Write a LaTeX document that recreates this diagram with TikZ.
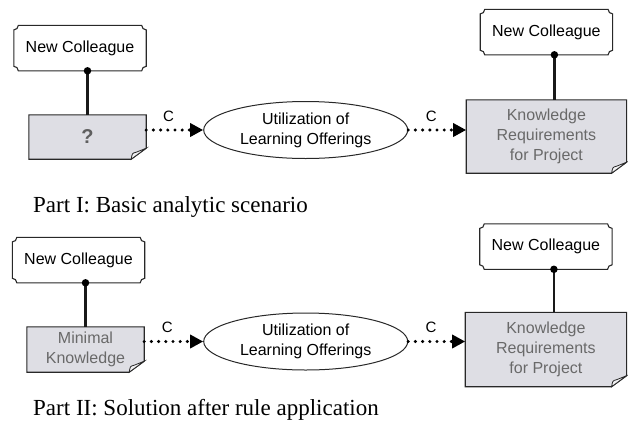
\documentclass[tikz,border=0pt]{standalone}
\usepackage{fontspec}
\setmainfont{Liberation Serif}
\setsansfont{Liberation Sans}
\usetikzlibrary{shapes,arrows,positioning,arrows.meta}
\definecolor{docgray}{RGB}{222,222,228}
\definecolor{txtgray}{RGB}{105,105,105}
\definecolor{linegray}{RGB}{40,40,40}

\begin{document}
\begin{tikzpicture}[x=1pt, y=1pt,
    boxfont/.style={font=\sffamily\fontsize{16}{20}\selectfont},
    frame/.style={draw=linegray, line width=1.1pt},
    person/.style={rectangle, inner sep=0pt, minimum width=132pt, minimum height=45pt, boxfont,
        append after command={\pgfextra{%
            \draw[frame] ([xshift=4.5pt]\tikzlastnode.north west) -- ([xshift=-4.5pt]\tikzlastnode.north east)
                arc[start angle=180, end angle=270, radius=4.5pt]
                -- ([yshift=4.5pt]\tikzlastnode.south east) arc[start angle=90, end angle=180, radius=4.5pt]
                -- ([xshift=4.5pt]\tikzlastnode.south west) arc[start angle=0, end angle=90, radius=4.5pt]
                -- ([yshift=-4.5pt]\tikzlastnode.north west) arc[start angle=270, end angle=360, radius=4.5pt]
                -- cycle;}}},
    doc/.style={rectangle, inner sep=0pt, minimum width=117pt, minimum height=44pt, align=center, boxfont, text=txtgray,
        append after command={\pgfextra{%
            \filldraw[frame, fill=docgray] (\tikzlastnode.north west) -- (\tikzlastnode.north east)
                -- ([yshift=11pt]\tikzlastnode.south east) -- ([xshift=-15pt]\tikzlastnode.south east)
                -- (\tikzlastnode.south west) -- cycle;
            \filldraw[frame, fill=docgray!40, line width=0.8pt] ([xshift=-15pt]\tikzlastnode.south east)
                .. controls ([xshift=-14pt,yshift=6pt]\tikzlastnode.south east) .. ([xshift=-10pt,yshift=7pt]\tikzlastnode.south east)
                -- ([yshift=11pt]\tikzlastnode.south east) -- cycle;}}},
    use/.style={ellipse, draw=linegray, line width=1pt, inner sep=0pt, minimum width=204pt, minimum height=57pt, align=center, boxfont},
    tie/.style={draw=black!90, line width=2.2pt},
    dot/.style={circle, fill=black, inner sep=0pt, minimum size=7.5pt},
    flow/.style={line width=3.4pt, dash pattern=on 0pt off 7.2pt, line cap=round, -{Triangle[length=13pt, width=13pt]}},
    clabel/.style={inner sep=0pt, font=\sffamily\fontsize{15}{16}\selectfont},
    caption/.style={anchor=base west, inner sep=0pt, font=\rmfamily\fontsize{23}{26}\selectfont}
]
    \useasboundingbox (0,0) rectangle (628,-426);

    %-----Part I-----
    % unknown starting knowledge
    \node[doc, font=\sffamily\bfseries\fontsize{20}{20}\selectfont, text=txtgray!90!black] (q1) at (87.5,-137) {?};
    % new colleague (left)
    \node[person, above=44pt of q1, xshift=-7.5pt] (nc1) {New Colleague};
    % utilization
    \node[use, right=57pt of q1, yshift=7pt] (use1) {Utilization of\\Learning Offerings};
    % requirements
    \node[doc, minimum width=160pt, minimum height=73pt, right=58pt of use1, yshift=-6.5pt] (req1) {Knowledge\\Requirements\\for Project};
    % new colleague (right)
    \node[person, above=45pt of req1] (nc1r) {New Colleague};

    \draw[tie] (q1.north) -- (q1.north |- nc1.south) node[dot] {};
    \draw[tie] ([xshift=8pt]req1.north) -- ([xshift=8pt]req1.north |- nc1r.south) node[dot] {};

    \draw[flow] (q1.east |- use1.west) -- (use1.west) node[pos=0.39, above=7pt, clabel] {C};
    \draw[flow] (use1.east) -- (use1.east -| req1.west) node[pos=0.4, above=7pt, clabel] {C};

    \node[caption] (cap1) at (33,-212) {Part I: Basic analytic scenario};

    %-----Part II-----
    % minimal knowledge
    \node[doc, minimum height=45pt] (mk2) at (85.5,-349.5) {Minimal\\Knowledge};
    \node[person, above=44pt of mk2, xshift=-7pt] (nc2) {New Colleague};
    \node[use, right=59pt of mk2, yshift=8pt] (use2) {Utilization of\\Learning Offerings};
    \node[doc, minimum width=161pt, minimum height=74pt, right=57pt of use2, yshift=-8pt] (req2) {Knowledge\\Requirements\\for Project};
    \node[person, above=43pt of req2] (nc2r) {New Colleague};

    \draw[tie] (mk2.north) -- (mk2.north |- nc2.south) node[dot] {};
    \draw[tie] ([xshift=8pt]req2.north) -- ([xshift=8pt]req2.north |- nc2r.south) node[dot] {};

    \draw[flow] (mk2.east |- use2.west) -- (use2.west) node[pos=0.39, above=7pt, clabel] {C};
    \draw[flow] (use2.east) -- (use2.east -| req2.west) node[pos=0.4, above=7pt, clabel] {C};

    \node[caption] (cap2) at (33,-415) {Part II: Solution after rule application};

\end{tikzpicture}
\end{document}
